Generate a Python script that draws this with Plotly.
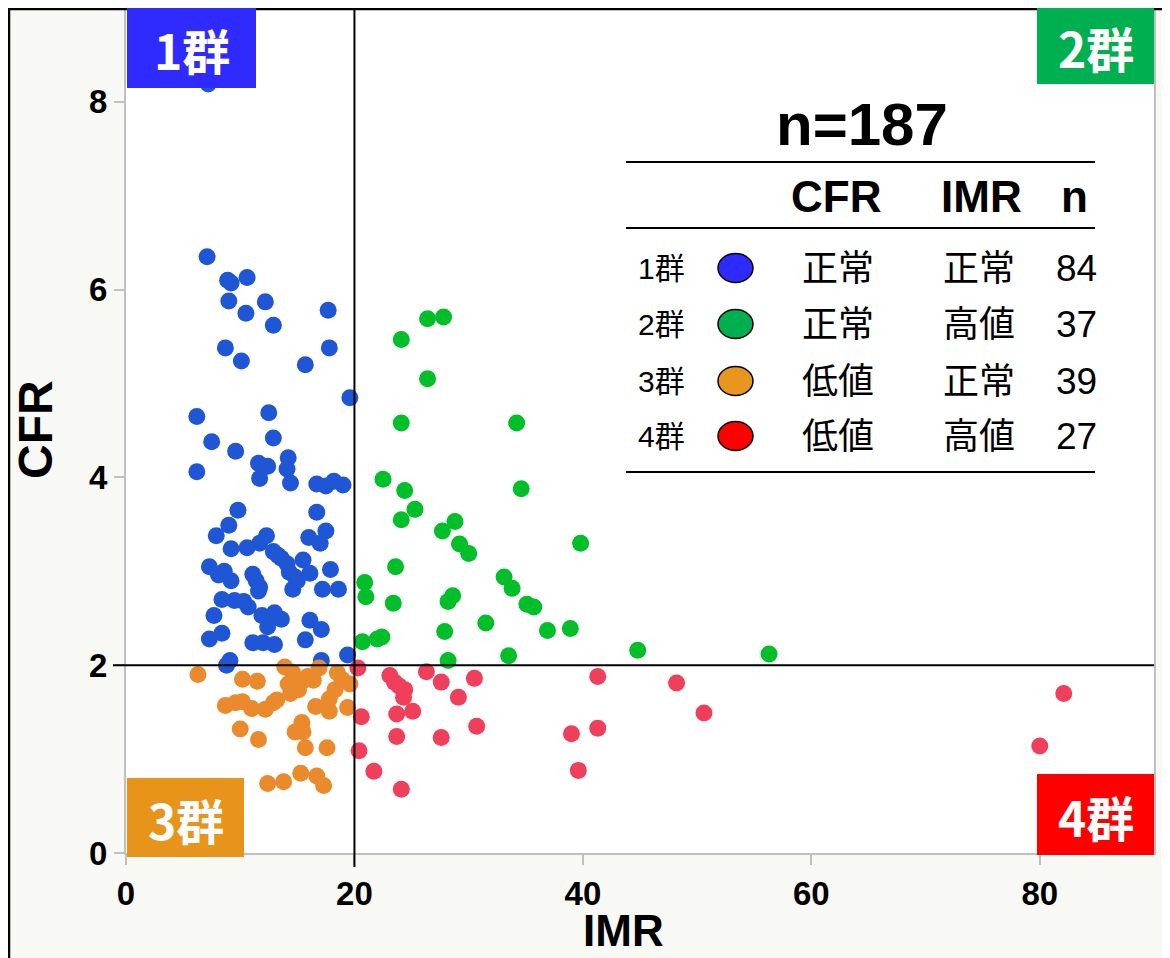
import plotly.graph_objects as go

# ---------------- data ----------------
g1_x = [7.2, 7.1, 8.9, 9.2, 10.6, 9.0, 12.2, 10.5, 12.9, 17.7, 8.7, 10.1, 15.7, 17.8, 19.6,
        6.2, 12.5, 7.5, 9.6, 12.9, 14.2, 11.6, 12.4, 6.2, 14.1, 11.7, 14.4, 16.7, 17.5, 18.2,
        19.0, 9.8, 16.7, 9.0, 7.9, 17.5, 16.0, 17.0, 9.2, 10.6, 11.7, 12.3, 12.9, 13.6, 14.1,
        15.5, 7.3, 8.1, 9.2, 11.1, 11.4, 11.7, 11.6, 14.3, 14.8, 16.1, 17.9, 14.6, 17.2, 18.6,
        8.4, 9.5, 10.7, 11.9, 13.0, 13.6, 7.7, 16.1, 17.1, 12.4, 7.3, 8.4, 11.1, 12.0, 13.0,
        15.7, 9.1, 8.8, 17.1, 19.4, 13.3, 15.0, 10.3, 8.6]
g1_y = [8.19, 6.35, 6.10, 6.07, 6.13, 5.88, 5.87, 5.75, 5.62, 5.78, 5.38, 5.24, 5.20, 5.38, 4.85,
        4.65, 4.69, 4.38, 4.28, 4.42, 4.21, 4.15, 4.12, 4.06, 4.09, 3.99, 3.94, 3.93, 3.91, 3.96,
        3.92, 3.65, 3.63, 3.49, 3.38, 3.43, 3.36, 3.30, 3.24, 3.25, 3.30, 3.38, 3.21, 3.14, 3.08,
        3.12, 3.05, 2.96, 2.90, 2.97, 2.90, 2.83, 2.79, 2.99, 2.94, 2.98, 3.02, 2.81, 2.81, 2.81,
        2.70, 2.69, 2.62, 2.53, 2.56, 2.49, 2.53, 2.48, 2.38, 2.41, 2.28, 2.34, 2.24, 2.24, 2.22,
        2.27, 2.05, 2.00, 2.05, 2.11, 3.17, 2.90, 2.68, 3.00]

g2_x = [26.4, 27.8, 24.1, 26.4, 24.1, 34.2, 22.5, 24.4, 34.6, 25.3, 24.1, 28.8, 27.7, 29.2, 30.0,
        39.8, 23.6, 20.9, 21.0, 23.4, 33.1, 33.8, 28.6, 28.2, 35.1, 35.7, 31.5, 27.9, 36.9, 38.9,
        20.7, 22.0, 22.4, 33.5, 28.2, 44.8, 56.3]
g2_y = [5.69, 5.71, 5.47, 5.05, 4.58, 4.58, 3.98, 3.86, 3.88, 3.66, 3.55, 3.53, 3.43, 3.29, 3.19,
        3.30, 3.05, 2.88, 2.73, 2.66, 2.94, 2.82, 2.74, 2.68, 2.65, 2.62, 2.45, 2.36, 2.37, 2.39,
        2.25, 2.28, 2.30, 2.10, 2.05, 2.16, 2.12]

g3_x = [6.3, 10.2, 11.5, 13.9, 14.6, 16.9, 16.4, 18.5, 15.6, 15.1, 14.4, 19.6, 18.3, 17.8, 13.2,
        8.7, 10.2, 11.0, 12.2, 16.6, 17.8, 19.4, 15.4, 14.8, 15.5, 10.0, 11.6, 15.7, 17.6, 15.3,
        16.7, 17.3, 12.4, 13.8, 15.9, 14.2, 9.6, 18.9, 12.9]
g3_y = [1.90, 1.85, 1.83, 1.98, 1.92, 1.97, 1.84, 1.92, 1.84, 1.74, 1.70, 1.80, 1.74, 1.64, 1.63,
        1.57, 1.61, 1.54, 1.53, 1.56, 1.51, 1.55, 1.39, 1.29, 1.29, 1.32, 1.21, 1.12, 1.12, 0.85,
        0.82, 0.72, 0.74, 0.76, 1.88, 1.80, 1.60, 1.85, 1.60]

g4_x = [20.3, 23.1, 23.5, 26.3, 27.6, 30.5, 41.3, 48.2, 24.4, 24.3, 29.1, 50.6, 20.6, 23.7, 25.1,
        30.7, 23.7, 27.6, 39.0, 41.3, 20.4, 21.7, 39.6, 24.1, 82.1, 80.0, 23.9]
g4_y = [1.97, 1.89, 1.82, 1.93, 1.82, 1.86, 1.88, 1.81, 1.74, 1.66, 1.66, 1.49, 1.45, 1.48, 1.51,
        1.35, 1.24, 1.23, 1.27, 1.33, 1.09, 0.87, 0.88, 0.68, 1.70, 1.14, 1.78]

groups = ["1群", "2群", "3群", "4群"]
cfr_status = ["正常", "正常", "低値", "低値"]
imr_status = ["正常", "高値", "正常", "高値"]
counts = [84, 37, 39, 27]
total_n = 187
x_ticks = [0, 20, 40, 60, 80]
y_ticks = [0, 2, 4, 6, 8]
cfr_cut = 2
imr_cut = 20

# ---------------- layout helpers ----------------
# The page body has an 8px margin, so the figure starts at page (8, 8).
OFF = 8
W, H = 1162, 950
P_LEFT, P_RIGHT, P_TOP, P_BOTTOM = 126, 1154, 8, 853   # plot area in page pixels
PW, PH = P_RIGHT - P_LEFT, P_BOTTOM - P_TOP


def px(v):
    return (v - P_LEFT) / PW


def py(v):
    return (P_BOTTOM - v) / PH


point_colors = ["#1f56d5", "#00bf29", "#ea8a2c", "#f03f5a"]
box_colors = ["#2f2bff", "#00b050", "#e8941a", "#ff0000"]
legend_colors = ["#2f2bff", "#00b050", "#e8961e", "#ff0000"]

fig = go.Figure()
for gx, gy, c, name in zip([g1_x, g2_x, g3_x, g4_x], [g1_y, g2_y, g3_y, g4_y], point_colors, groups):
    fig.add_trace(go.Scatter(x=gx, y=gy, mode="markers", name=name,
                             marker=dict(size=17, color=c, line=dict(width=0)),
                             showlegend=False))

shapes = []
# black frame lines on the figure's left and top edges
shapes.append(dict(type="line", xref="paper", yref="paper", x0=px(9), x1=px(9), y0=py(OFF + H + 2), y1=py(OFF - 2),
                   line=dict(color="black", width=2.5), layer="above"))
shapes.append(dict(type="line", xref="paper", yref="paper", x0=px(OFF - 2), x1=px(OFF + W + 2), y0=py(9), y1=py(9),
                   line=dict(color="black", width=2.5), layer="above"))

# reference lines
shapes.append(dict(type="line", xref="x", yref="paper", x0=imr_cut, x1=imr_cut, y0=py(867), y1=1,
                   line=dict(color="black", width=2), layer="above"))
shapes.append(dict(type="line", xref="paper", yref="y", x0=px(113), x1=1, y0=cfr_cut, y1=cfr_cut,
                   line=dict(color="black", width=2), layer="above"))

# quadrant label boxes (page pixel boxes)
box_px = [(127, 256, 8, 88), (1037, 1154, 8, 84), (127, 244, 778, 857), (1037, 1154, 774, 855)]
annotations = []
for (x0, x1, y0, y1), c, g in zip(box_px, box_colors, groups):
    shapes.append(dict(type="rect", xref="paper", yref="paper", x0=px(x0), x1=px(x1), y0=py(y1), y1=py(y0),
                       fillcolor=c, line=dict(width=0), layer="above"))
    annotations.append(dict(xref="paper", yref="paper", x=px((x0 + x1) / 2), y=py((y0 + y1) / 2 + 1),
                            text=g, showarrow=False, xanchor="center", yanchor="middle",
                            font=dict(family="Noto Sans CJK JP", size=48, color="white", weight="bold")))

# table
for ly in [162, 228, 472]:
    shapes.append(dict(type="line", xref="paper", yref="paper", x0=px(626), x1=px(1095), y0=py(ly), y1=py(ly),
                       line=dict(color="black", width=2), layer="above"))

annotations.append(dict(xref="paper", yref="paper", x=px(862), y=py(125), text=f"n={total_n}",
                        showarrow=False, xanchor="center", yanchor="middle",
                        font=dict(family="Liberation Sans", size=60, color="black", weight="bold")))
for txt, cx in zip(["CFR", "IMR", "n"], [836, 981, 1074]):
    annotations.append(dict(xref="paper", yref="paper", x=px(cx), y=py(196), text=txt,
                            showarrow=False, xanchor="center", yanchor="middle",
                            font=dict(family="Liberation Sans", size=44, color="black", weight="bold")))

row_y = [268, 324, 381, 436]
row_font = "Liberation Sans, Noto Sans CJK JP"
for i in range(4):
    ry = row_y[i]
    annotations.append(dict(xref="paper", yref="paper", x=px(661), y=py(ry), text=groups[i],
                            showarrow=False, xanchor="center", yanchor="middle",
                            font=dict(family=row_font, size=30, color="black")))
    shapes.append(dict(type="circle", xref="paper", yref="paper", x0=px(718), x1=px(753),
                       y0=py(ry + 14.5), y1=py(ry - 14.5), fillcolor=legend_colors[i],
                       line=dict(color="black", width=1.5), layer="above"))
    annotations.append(dict(xref="paper", yref="paper", x=px(838), y=py(ry), text=cfr_status[i],
                            showarrow=False, xanchor="center", yanchor="middle",
                            font=dict(family=row_font, size=36, color="black")))
    annotations.append(dict(xref="paper", yref="paper", x=px(979), y=py(ry), text=imr_status[i],
                            showarrow=False, xanchor="center", yanchor="middle",
                            font=dict(family=row_font, size=36, color="black")))
    annotations.append(dict(xref="paper", yref="paper", x=px(1076), y=py(ry), text=str(counts[i]),
                            showarrow=False, xanchor="center", yanchor="middle",
                            font=dict(family=row_font, size=37, color="black")))

# axis titles
annotations.append(dict(xref="paper", yref="paper", x=px(623), y=py(930), text="IMR", showarrow=False,
                        xanchor="center", yanchor="middle", height=34, valign="middle",
                        font=dict(family="Liberation Sans", size=44, color="black", weight="bold")))
annotations.append(dict(xref="paper", yref="paper", x=px(35), y=py(430), text="CFR", showarrow=False,
                        xanchor="center", yanchor="middle", textangle=-90,
                        font=dict(family="Liberation Sans", size=48, color="black", weight="bold")))

axis_common = dict(showgrid=False, zeroline=False, showline=True, linecolor="#c0c0c0", linewidth=2,
                   ticks="outside", ticklen=10, tickwidth=2, tickcolor="#c0c0c0",
                   tickfont=dict(family="Liberation Sans", size=33, color="black", weight="bold"))

fig.update_layout(
    width=W, height=H,
    margin=dict(l=P_LEFT - OFF, r=OFF + W - P_RIGHT, t=P_TOP - OFF, b=OFF + H - P_BOTTOM),
    paper_bgcolor="#f8f8f4",
    plot_bgcolor="white",
    xaxis=dict(range=[0, 90], tickvals=x_ticks, **axis_common),
    yaxis=dict(range=[0, 9], tickvals=y_ticks, mirror=True, **axis_common),
    shapes=shapes,
    annotations=annotations,
    showlegend=False,
)

fig.write_html("out.html")
